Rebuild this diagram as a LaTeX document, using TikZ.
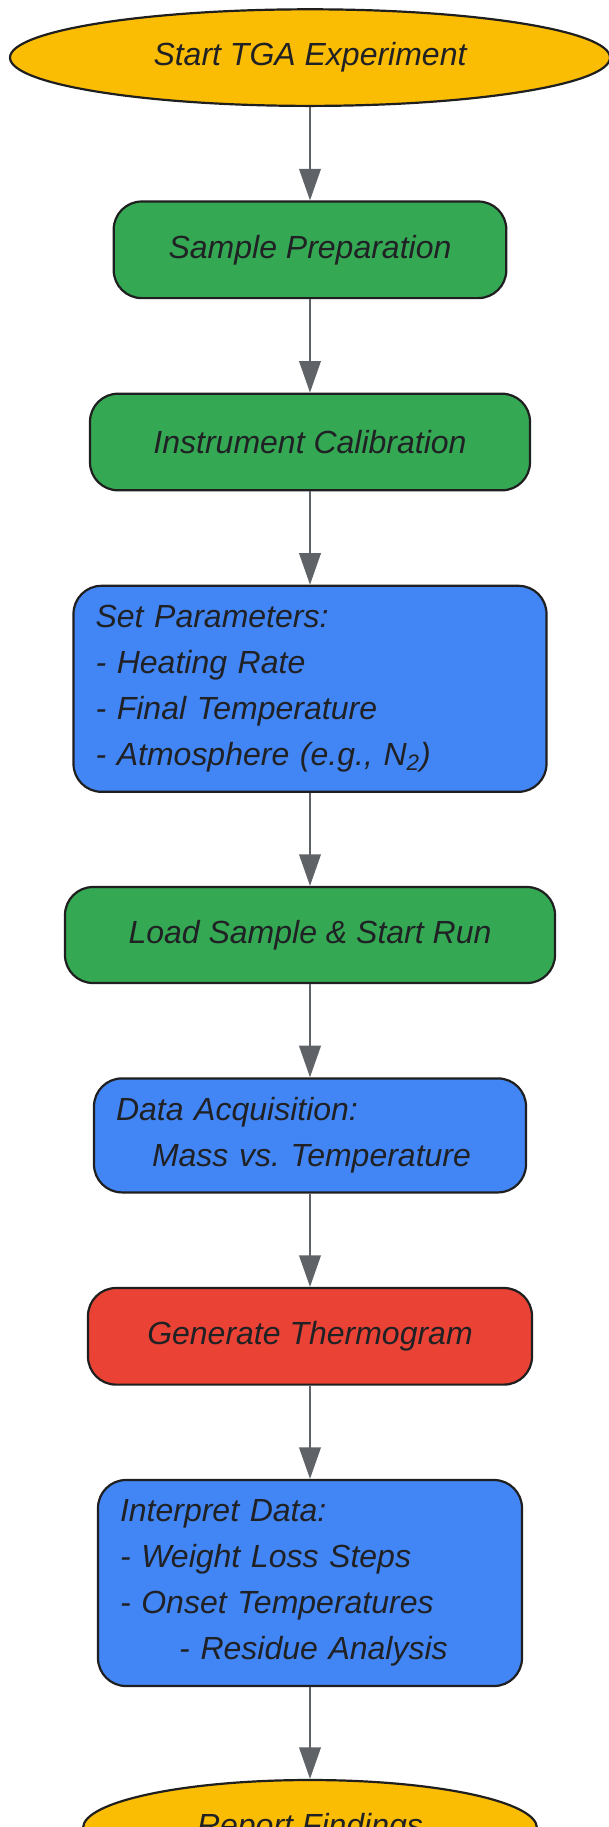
\documentclass[tikz,border=0pt]{standalone}
\usepackage{fontspec}
\setmainfont{Liberation Sans}
\usetikzlibrary{shapes.geometric,arrows.meta}
\definecolor{gyellow}{HTML}{FBBC04}
\definecolor{ggreen}{HTML}{34A853}
\definecolor{gblue}{HTML}{4285F4}
\definecolor{gred}{HTML}{EA4335}
\definecolor{edge}{HTML}{5F6368}
\definecolor{txt}{HTML}{202124}
\definecolor{bord}{HTML}{1F1F1F}
\frenchspacing
\tikzset{
  base/.style={draw=bord, line width=1.1pt, text=txt, font=\fontsize{16}{23}\selectfont\itshape\frenchspacing, inner sep=0pt},
  term/.style={base, ellipse, fill=gyellow, minimum height=48.3pt},
  greenbox/.style={base, rounded corners=14pt, fill=ggreen, minimum height=48.3pt},
  redbox/.style={base, rounded corners=14pt, fill=gred, minimum height=48.3pt},
  bluebox/.style={base, rounded corners=14pt, fill=gblue, align=left, inner xsep=11pt},
  conn/.style={draw=edge, line width=1pt, -{Triangle[length=15.8pt,width=10.8pt]}}
}
\begin{document}
\begin{tikzpicture}[x=0.5pt,y=-0.5pt]
\useasboundingbox (0,0) rectangle (609,1827);
\node[term, minimum width=300pt] (start) at (310,57.6) {Start TGA Experiment};
\node[greenbox, minimum width=196.3pt] (prep) at (310,249.8) {Sample Preparation};
\node[greenbox, minimum width=220pt] (cal) at (310,442) {Instrument Calibration};
\node[bluebox, text width=214.5pt, minimum height=103pt] (param) at (310,688.8) {Set Parameters:\\- Heating Rate\\- Final Temperature\\- Atmosphere (e.g., N\textsubscript{2})};
\node[greenbox, minimum width=245pt, minimum height=48pt] (load) at (310,935) {Load Sample \& Start Run};
\node[bluebox, text width=194pt, minimum height=57pt] (acq) at (310,1135.4) {Data Acquisition:\\\hspace*{18pt}Mass vs.\ Temperature};
\node[redbox, minimum width=222pt] (gen) at (310,1336.3) {Generate Thermogram};
\node[bluebox, text width=190pt, minimum height=103pt] (interp) at (310,1583) {Interpret Data:\\- Weight Loss Steps\\- Onset Temperatures\\\hspace*{29.6pt}- Residue Analysis};
\node[term, minimum width=227pt, minimum height=48pt] (report) at (310,1828) {Report Findings};
\draw[conn] (start) -- (prep);
\draw[conn] (prep) -- (cal);
\draw[conn] (cal) -- (param);
\draw[conn] (param) -- (load);
\draw[conn] (load) -- (acq);
\draw[conn] (acq) -- (gen);
\draw[conn] (gen) -- (interp);
\draw[conn] (interp) -- (report);
\end{tikzpicture}
\end{document}
